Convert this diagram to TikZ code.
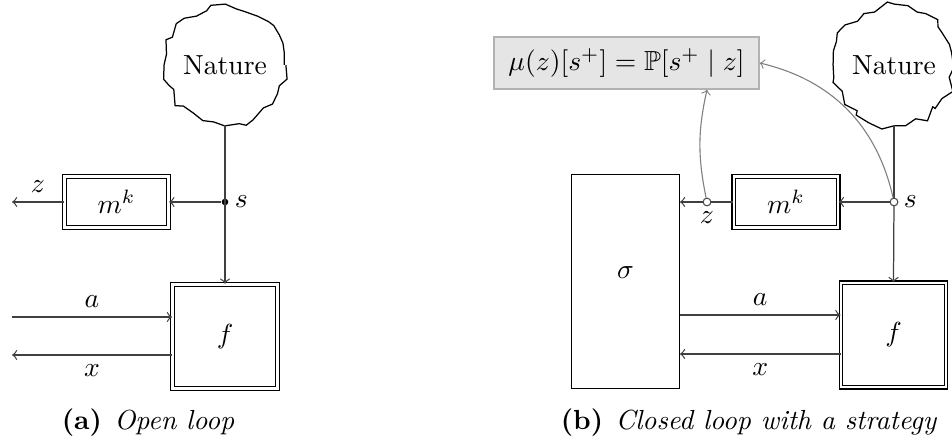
\documentclass[tikz,border=0pt]{standalone}
\usepackage{amssymb}
\usetikzlibrary{decorations.pathmorphing}
\begin{document}
\begin{tikzpicture}[x=0.3623pt,y=-0.3623pt,
  conn/.style={draw=black!75, line width=0.45pt},
  arr/.style={conn,->},
  soft/.style={draw=black!50, line width=0.4pt,->},
  dbox/.style={draw, double, double distance=0.9pt, line width=0.4pt, inner sep=0pt},
  mbox/.style={dbox, minimum width=37.8pt, minimum height=18.6pt},
  fbox/.style={dbox, minimum width=38pt, minimum height=37.8pt},
  sbox/.style={draw, line width=0.45pt, inner sep=0pt, minimum width=39pt, minimum height=77.4pt, text depth=6.2pt},
  naturenode/.style={circle, draw, line width=0.45pt, minimum size=43pt, inner sep=0pt,
     decorate, decoration={random steps, segment length=3.6pt, amplitude=1.7pt}},
  dotnode/.style={circle, fill=black, inner sep=0pt, minimum size=2.4pt},
  opennode/.style={circle, draw=black!70, fill=white, line width=0.4pt, inner sep=0pt, minimum size=2.8pt},
  mubox/.style={draw=black!30, fill=black!10, line width=0.5pt, inner sep=0pt, minimum width=96pt, minimum height=18.8pt},
  captext/.style={inner sep=0pt}
]
\clip (0,0) rectangle (952,445);
\pgfmathsetseed{11}
% ---------------- (a) open loop ----------------
\node[naturenode] (nat1) at (225,65) {Nature};
\node[mbox] (m1) at (116.5,202) {$m^k$};
\node[fbox] (f1) at (225,336.5) {$f$};
\node[dotnode] (s1) at (225,202) {};
\coordinate (zout1) at (12,202);
\coordinate (ain1) at (12,317);
\coordinate (xout1) at (12,355);
\draw[arr] (nat1.south) -- (f1.north);
\draw[arr] (s1) -- (m1.east);
\draw[arr] (m1.west) -- node[above] {$z$} (zout1);
\node[right] at (s1) {$s$};
\draw[arr] (ain1) -- node[above] {$a$} (ain1 -| f1.west);
\draw[arr] (xout1 -| f1.west) -- node[below] {$x$} (xout1);
\node[captext] (capa) at (148,423) {\textbf{(a)}\hspace{0.45em}\textit{Open loop}};
% ---------------- (b) closed loop ----------------
\node[mubox] (mu) at (626.5,63) {$\mu(z)[s^+]=\mathbb{P}[s^+\mid z]$};
\node[naturenode] (nat2) at (894,65) {Nature};
\node[sbox] (sig) at (625.5,281.5) {$\sigma$};
\node[mbox] (m2) at (786,202) {$m^k$};
\node[fbox] (f2) at (893.5,335) {$f$};
\coordinate (ya) at (0,315);
\coordinate (yx) at (0,354);
\draw[conn] (nat2.south) -- (894,202);
\draw[arr] (894,202) -- (f2.north);
\node[opennode] (s2) at (894,202) {};
\node[opennode] (z2) at (707,202) {};
\draw[arr] (s2) -- (m2.east);
\draw[conn] (m2.west) -- (z2);
\draw[arr] (z2) -- (sig.east |- z2);
\node[right] at (s2) {$s$};
\node[below] at (z2) {$z$};
\draw[arr] (sig.east |- ya) -- node[above] {$a$} (f2.west |- ya);
\draw[arr] (f2.west |- yx) -- node[below] {$x$} (sig.east |- yx);
\draw[soft] (z2) to[bend left=12] (mu.south -| z2);
\draw[soft] (s2) to[bend right=32] (mu.east);
\node[captext] (capb) at (749,423) {\textbf{(b)}\hspace{0.45em}\textit{Closed loop with a strategy}};
\end{tikzpicture}
\end{document}
